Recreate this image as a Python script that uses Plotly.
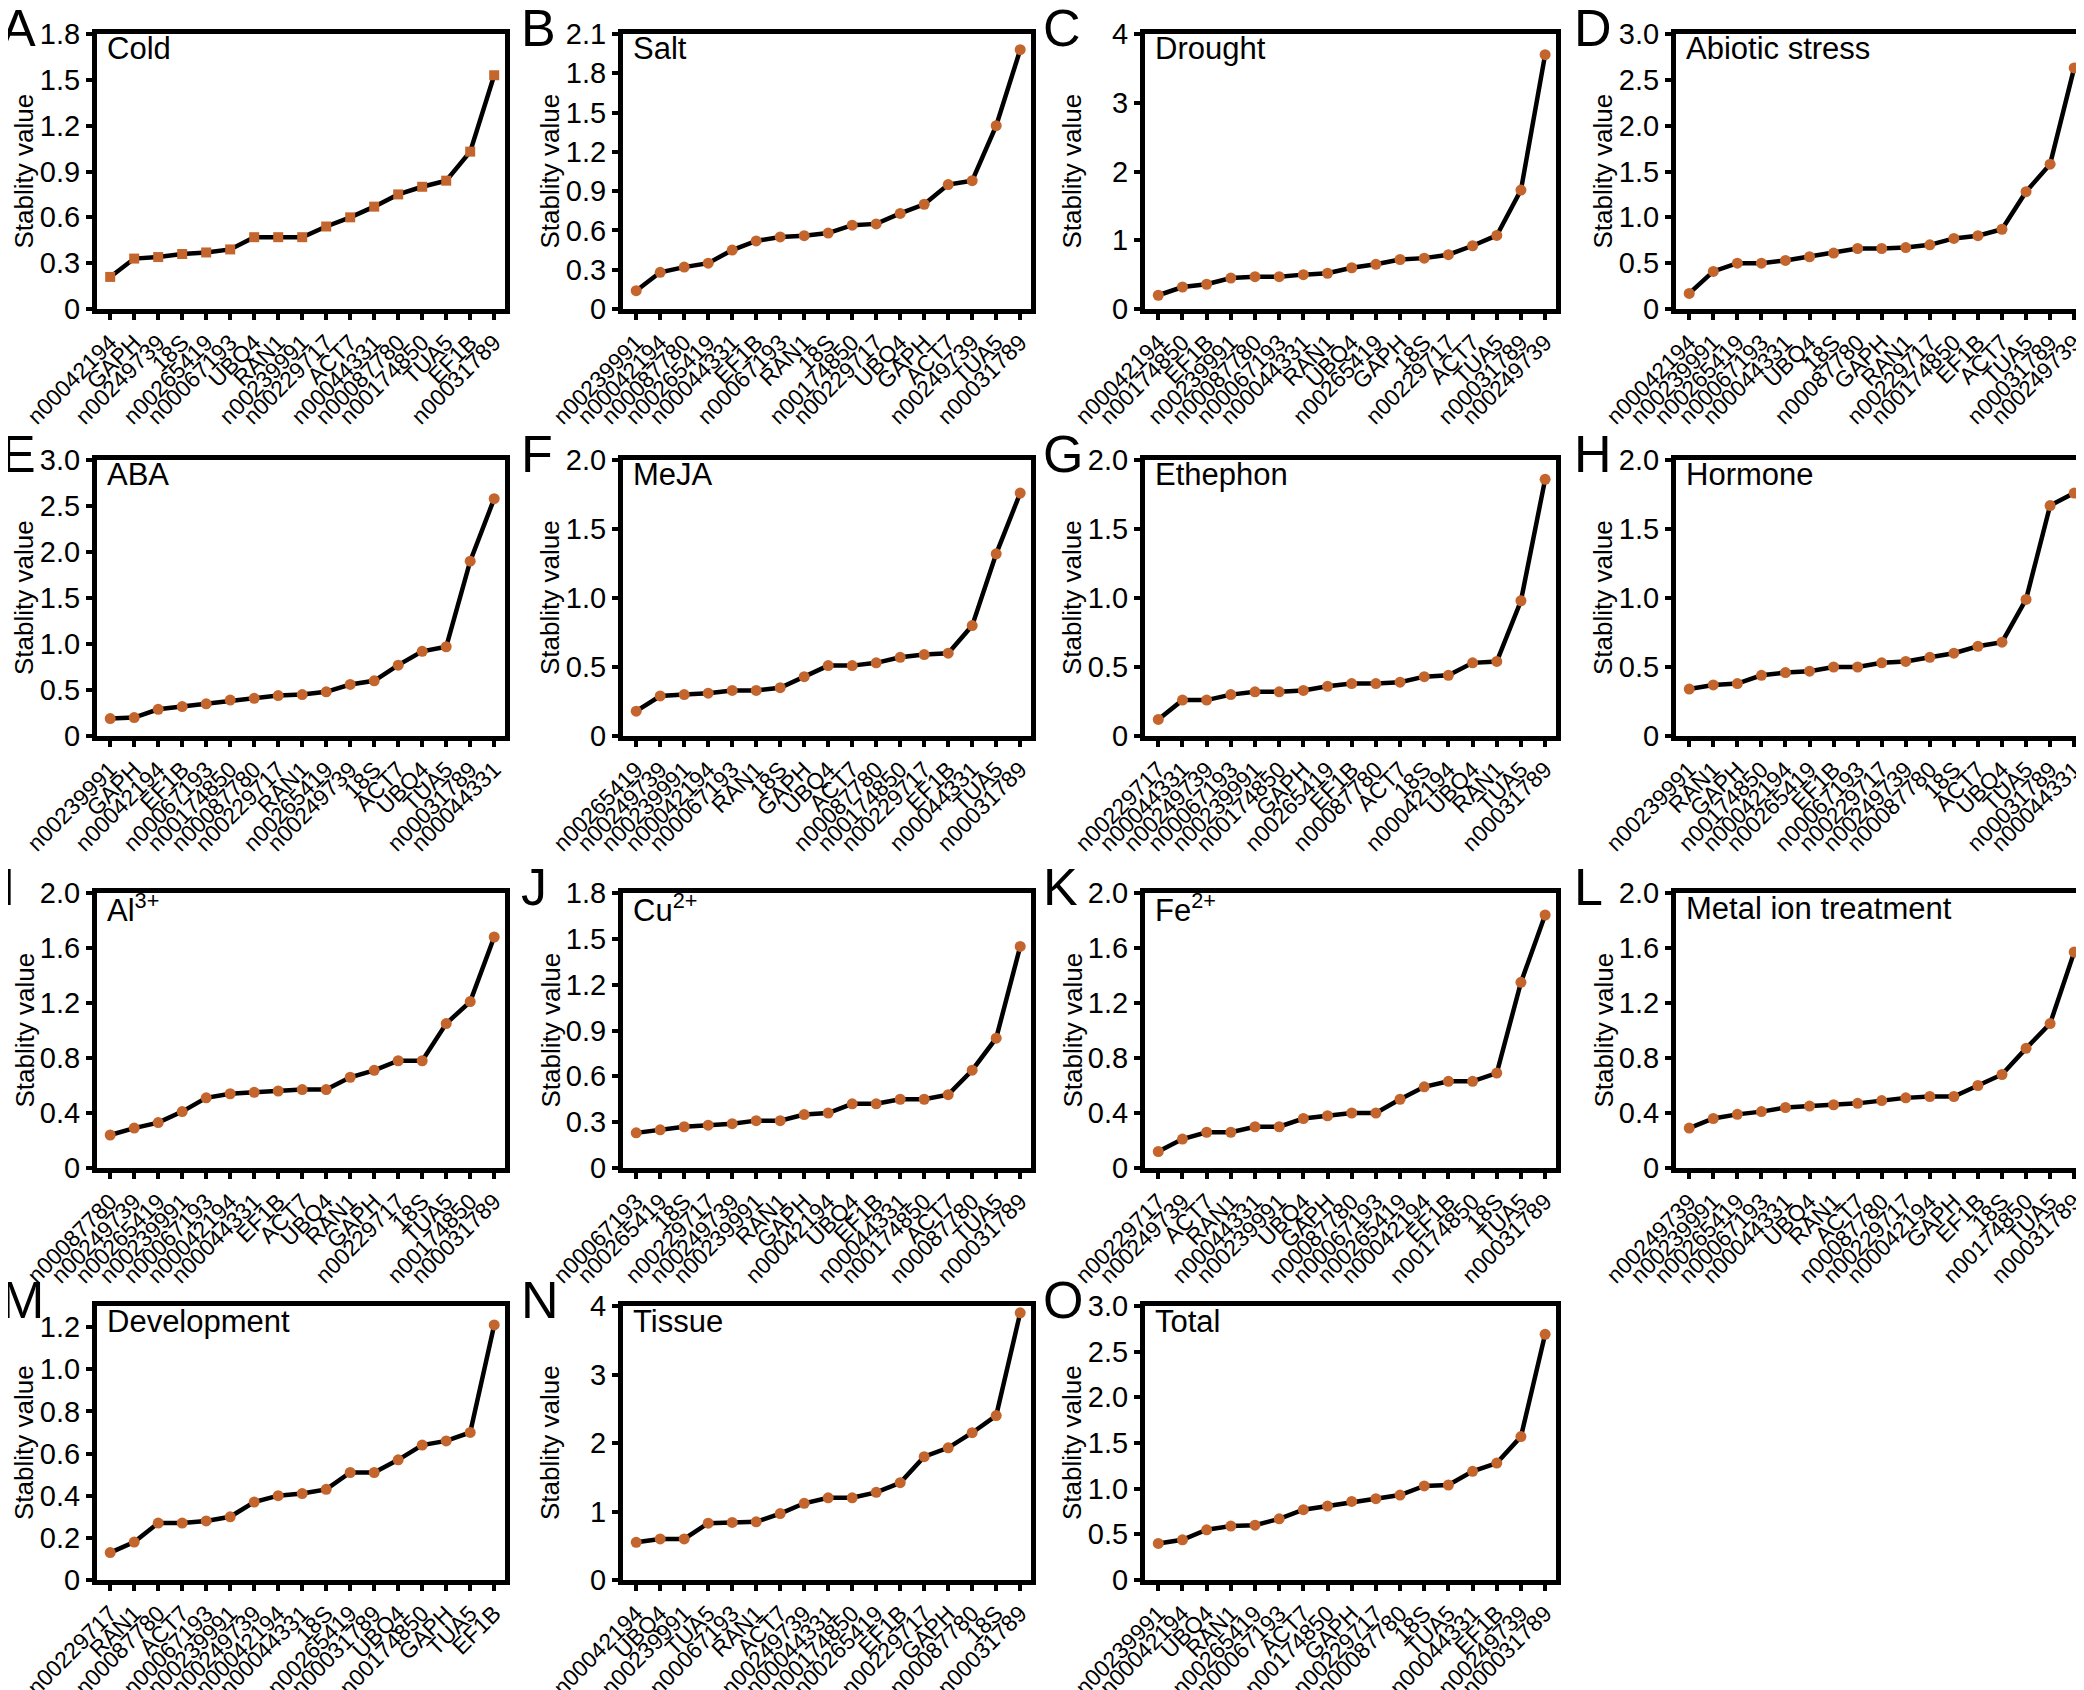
import plotly.graph_objects as go

W, H = 2084, 1690

# ---- data (genes sorted by stability value) ----
cold_genes = ["n00042194", "GAPH", "n00249739", "18S", "n00265419", "n00067193", "UBQ4", "RAN1",
              "n00239991", "n00229717", "ACT7", "n00044331", "n00087780", "n00174850", "TUA5",
              "EF1B", "n00031789"]
cold_vals = [0.21, 0.33, 0.34, 0.36, 0.37, 0.39, 0.47, 0.47, 0.47, 0.54, 0.60, 0.67, 0.75, 0.80,
             0.84, 1.03, 1.53]

salt_genes = ["n00239991", "n00042194", "n00087780", "n00265419", "n00044331", "EF1B", "n00067193",
              "RAN1", "18S", "n00174850", "n00229717", "UBQ4", "GAPH", "ACT7", "n00249739", "TUA5",
              "n00031789"]
salt_vals = [0.14, 0.28, 0.32, 0.35, 0.45, 0.52, 0.55, 0.56, 0.58, 0.64, 0.65, 0.73, 0.80, 0.95,
             0.98, 1.40, 1.98]

drought_genes = ["n00042194", "n00174850", "EF1B", "n00239991", "n00087780", "n00067193",
                 "n00044331", "RAN1", "UBQ4", "n00265419", "GAPH", "18S", "n00229717", "ACT7",
                 "TUA5", "n00031789", "n00249739"]
drought_vals = [0.20, 0.32, 0.36, 0.45, 0.47, 0.47, 0.50, 0.52, 0.60, 0.65, 0.72, 0.74, 0.79, 0.92,
                1.07, 1.73, 3.70]

abiotic_genes = ["n00042194", "n00239991", "n00265419", "n00067193", "n00044331", "UBQ4", "18S",
                 "n00087780", "GAPH", "RAN1", "n00229717", "n00174850", "EF1B", "ACT7", "TUA5",
                 "n00031789", "n00249739"]
abiotic_vals = [0.17, 0.41, 0.50, 0.50, 0.53, 0.57, 0.61, 0.66, 0.66, 0.67, 0.70, 0.77, 0.80, 0.87,
                1.28, 1.58, 2.63]

aba_genes = ["n00239991", "GAPH", "n00042194", "EF1B", "n00067193", "n00174850", "n00087780",
             "n00229717", "RAN1", "n00265419", "n00249739", "18S", "ACT7", "UBQ4", "TUA5",
             "n00031789", "n00044331"]
aba_vals = [0.19, 0.20, 0.29, 0.32, 0.35, 0.39, 0.41, 0.44, 0.45, 0.48, 0.56, 0.60, 0.77, 0.92,
            0.97, 1.90, 2.58]

meja_genes = ["n00265419", "n00249739", "n00239991", "n00042194", "n00067193", "RAN1", "18S",
              "GAPH", "UBQ4", "ACT7", "n00087780", "n00174850", "n00229717", "EF1B", "n00044331",
              "TUA5", "n00031789"]
meja_vals = [0.18, 0.29, 0.30, 0.31, 0.33, 0.33, 0.35, 0.43, 0.51, 0.51, 0.53, 0.57, 0.59, 0.60,
             0.80, 1.32, 1.76]

ethephon_genes = ["n00229717", "n00044331", "n00249739", "n00067193", "n00239991", "n00174850",
                  "GAPH", "n00265419", "EF1B", "n00087780", "ACT7", "18S", "n00042194", "UBQ4",
                  "RAN1", "TUA5", "n00031789"]
ethephon_vals = [0.12, 0.26, 0.26, 0.30, 0.32, 0.32, 0.33, 0.36, 0.38, 0.38, 0.39, 0.43, 0.44,
                 0.53, 0.54, 0.98, 1.86]

hormone_genes = ["n00239991", "RAN1", "GAPH", "n00174850", "n00042194", "n00265419", "EF1B",
                 "n00067193", "n00229717", "n00249739", "n00087780", "18S", "ACT7", "UBQ4", "TUA5",
                 "n00031789", "n00044331"]
hormone_vals = [0.34, 0.37, 0.38, 0.44, 0.46, 0.47, 0.50, 0.50, 0.53, 0.54, 0.57, 0.60, 0.65, 0.68,
                0.99, 1.67, 1.76]

al_genes = ["n00087780", "n00249739", "n00265419", "n00239991", "n00067193", "n00042194",
            "n00044331", "EF1B", "ACT7", "UBQ4", "RAN1", "GAPH", "n00229717", "18S", "TUA5",
            "n00174850", "n00031789"]
al_vals = [0.24, 0.29, 0.33, 0.41, 0.51, 0.54, 0.55, 0.56, 0.57, 0.57, 0.66, 0.71, 0.78, 0.78,
           1.05, 1.21, 1.68]

cu_genes = ["n00067193", "n00265419", "18S", "n00229717", "n00249739", "n00239991", "RAN1", "GAPH",
            "n00042194", "UBQ4", "EF1B", "n00044331", "n00174850", "ACT7", "n00087780", "TUA5",
            "n00031789"]
cu_vals = [0.23, 0.25, 0.27, 0.28, 0.29, 0.31, 0.31, 0.35, 0.36, 0.42, 0.42, 0.45, 0.45, 0.48,
           0.64, 0.85, 1.45]

fe_genes = ["n00229717", "n00249739", "ACT7", "RAN1", "n00044331", "n00239991", "UBQ4", "GAPH",
            "n00087780", "n00067193", "n00265419", "n00042194", "EF1B", "n00174850", "18S", "TUA5",
            "n00031789"]
fe_vals = [0.12, 0.21, 0.26, 0.26, 0.30, 0.30, 0.36, 0.38, 0.40, 0.40, 0.50, 0.59, 0.63, 0.63,
           0.69, 1.35, 1.84]

metal_genes = ["n00249739", "n00239991", "n00265419", "n00067193", "n00044331", "UBQ4", "RAN1",
               "ACT7", "n00087780", "n00229717", "n00042194", "GAPH", "EF1B", "18S", "n00174850",
               "TUA5", "n00031789"]
metal_vals = [0.29, 0.36, 0.39, 0.41, 0.44, 0.45, 0.46, 0.47, 0.49, 0.51, 0.52, 0.52, 0.60, 0.68,
              0.87, 1.05, 1.57]

dev_genes = ["n00229717", "RAN1", "n00087780", "ACT7", "n00067193", "n00239991", "n00249739",
             "n00042194", "n00044331", "18S", "n00265419", "n00031789", "UBQ4", "n00174850", "GAPH",
             "TUA5", "EF1B"]
dev_vals = [0.13, 0.18, 0.27, 0.27, 0.28, 0.30, 0.37, 0.40, 0.41, 0.43, 0.51, 0.51, 0.57, 0.64,
            0.66, 0.70, 1.21]

tissue_genes = ["n00042194", "UBQ4", "n00239991", "TUA5", "n00067193", "RAN1", "ACT7", "n00249739",
                "n00044331", "n00174850", "n00265419", "EF1B", "n00229717", "GAPH", "n00087780",
                "18S", "n00031789"]
tissue_vals = [0.55, 0.60, 0.60, 0.83, 0.84, 0.85, 0.97, 1.12, 1.20, 1.20, 1.28, 1.42, 1.80, 1.93,
               2.15, 2.40, 3.90]

total_genes = ["n00239991", "n00042194", "UBQ4", "RAN1", "n00265419", "n00067193", "ACT7",
               "n00174850", "GAPH", "n00229717", "n00087780", "18S", "TUA5", "n00044331", "EF1B",
               "n00249739", "n00031789"]
total_vals = [0.40, 0.44, 0.55, 0.59, 0.60, 0.67, 0.77, 0.81, 0.86, 0.89, 0.93, 1.03, 1.04, 1.19,
              1.28, 1.57, 2.69]

# letter, title, genes, values, (y max, y tick step, last tick), marker symbol
panels = [
    ("A", "Cold", cold_genes, cold_vals, (1.8, 0.3, 1.8), "square"),
    ("B", "Salt", salt_genes, salt_vals, (2.1, 0.3, 2.1), "circle"),
    ("C", "Drought", drought_genes, drought_vals, (4, 1, 4), "circle"),
    ("D", "Abiotic stress", abiotic_genes, abiotic_vals, (3.0, 0.5, 3.0), "circle"),
    ("E", "ABA", aba_genes, aba_vals, (3.0, 0.5, 3.0), "circle"),
    ("F", "MeJA", meja_genes, meja_vals, (2.0, 0.5, 2.0), "circle"),
    ("G", "Ethephon", ethephon_genes, ethephon_vals, (2.0, 0.5, 2.0), "circle"),
    ("H", "Hormone", hormone_genes, hormone_vals, (2.0, 0.5, 2.0), "circle"),
    ("I", "Al<sup>3+</sup>", al_genes, al_vals, (2.0, 0.4, 2.0), "circle"),
    ("J", "Cu<sup>2+</sup>", cu_genes, cu_vals, (1.8, 0.3, 1.8), "circle"),
    ("K", "Fe<sup>2+</sup>", fe_genes, fe_vals, (2.0, 0.4, 2.0), "circle"),
    ("L", "Metal ion treatment", metal_genes, metal_vals, (2.0, 0.4, 2.0), "circle"),
    ("M", "Development", dev_genes, dev_vals, (1.3, 0.2, 1.2), "circle"),
    ("N", "Tissue", tissue_genes, tissue_vals, (4, 1, 4), "circle"),
    ("O", "Total", total_genes, total_vals, (3.0, 0.5, 3.0), "circle"),
]

# frame edges in pixels
col_left = [89, 615, 1137, 1668]
col_right = [497, 1023, 1548, 2077]
row_top = [26, 452, 885, 1298]
row_bot = [301, 728, 1160, 1572]

FONT = "Liberation Sans, Arial, sans-serif"
DOT = "#C3652D"

fig = go.Figure()
annotations = []


def fmt(v, step):
    if v == 0:
        return "0"
    if float(step).is_integer():
        return str(int(round(v)))
    return f"{v:.1f}"


for i, (letter, title, genes, vals, (ymax, step, ylast), symbol) in enumerate(panels):
    r, c = divmod(i, 4)
    n = "" if i == 0 else str(i + 1)
    x0, x1 = col_left[c] / W, col_right[c] / W
    y0, y1 = 1 - row_bot[r] / H, 1 - row_top[r] / H

    fig.add_trace(go.Scatter(
        x=list(range(len(genes))), y=vals, mode="lines+markers",
        line=dict(color="black", width=4.5),
        marker=dict(symbol=symbol, size=11 if symbol == "circle" else 10, color=DOT),
        xaxis="x" + n, yaxis="y" + n, showlegend=False,
    ))

    nt = int(round(ylast / step))
    tv = [k * step for k in range(nt + 1)]
    axis_common = dict(showline=True, linecolor="black", linewidth=5, mirror=True,
                       ticks="outside", ticklen=6, tickwidth=4, tickcolor="black",
                       showgrid=False, zeroline=False, automargin=False)
    fig.update_layout(**{
        "xaxis" + n: dict(domain=[x0, x1], anchor="y" + n, range=[-0.55, len(genes) - 0.55],
                          tickmode="array", tickvals=list(range(len(genes))), ticktext=genes,
                          tickangle=-45, tickfont=dict(family=FONT, size=23, color="black"),
                          **axis_common),
        "yaxis" + n: dict(domain=[y0, y1], anchor="x" + n, range=[0, ymax],
                          tickmode="array", tickvals=tv, ticktext=[fmt(v, step) for v in tv],
                          tickfont=dict(family=FONT, size=29, color="black"),
                          **axis_common),
    })

    letter_x = max(col_left[c] - 104, -9)
    annotations.append(dict(text=letter, x=letter_x / W, y=1 - (row_top[r] - 6) / H,
                            xref="paper", yref="paper", xanchor="left", yanchor="middle",
                            showarrow=False, font=dict(family=FONT, size=52, color="black")))
    annotations.append(dict(text=title, x=(col_left[c] + 8) / W, y=1 - (row_top[r] + 15) / H,
                            xref="paper", yref="paper", xanchor="left", yanchor="middle",
                            showarrow=False, font=dict(family=FONT, size=31, color="black")))
    annotations.append(dict(text="Stablity value", x=(col_left[c] - 73) / W,
                            y=1 - (row_top[r] + row_bot[r]) / 2 / H, textangle=-90,
                            xref="paper", yref="paper", xanchor="center", yanchor="middle",
                            showarrow=False, font=dict(family=FONT, size=26, color="black")))

fig.update_layout(width=W, height=H, margin=dict(l=0, r=0, t=0, b=0, autoexpand=False),
                  paper_bgcolor="white", plot_bgcolor="white",
                  font=dict(family=FONT, color="black"), annotations=annotations)

fig.write_html("out.html")
